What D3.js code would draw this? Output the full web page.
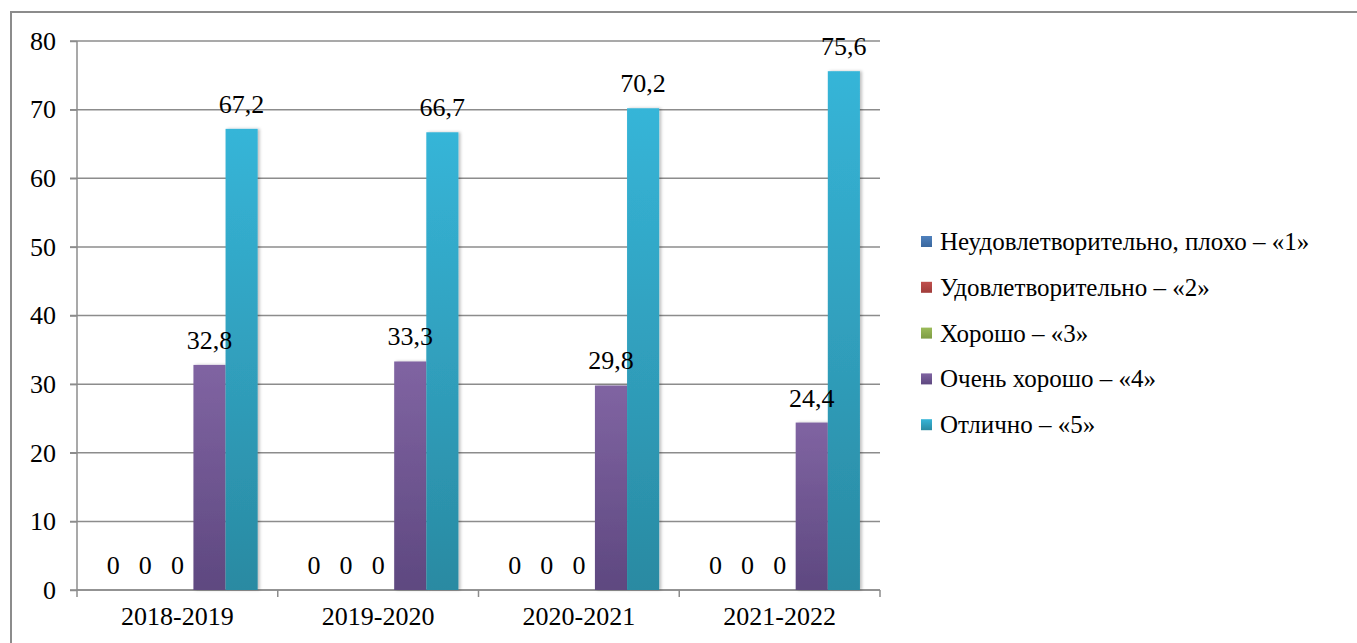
<!DOCTYPE html>
<html><head><meta charset="utf-8">
<script src="https://cdnjs.cloudflare.com/ajax/libs/d3/7.8.5/d3.min.js"></script>
<style>body{margin:0;background:#fff}svg{display:block}svg text{font-family:"Liberation Serif","Times New Roman","DejaVu Serif",serif !important}</style>
</head><body>
<script>
const categories = ["2018-2019","2019-2020","2020-2021","2021-2022"];
const seriesNames = ["Неудовлетворительно, плохо – «1»","Удовлетворительно – «2»","Хорошо – «3»","Очень хорошо – «4»","Отлично – «5»"];
const s1 = [0,0,0,0];
const s2 = [0,0,0,0];
const s3 = [0,0,0,0];
const s4 = [32.8,33.3,29.8,24.4];
const s5 = [67.2,66.7,70.2,75.6];
const labels1 = ["0","0","0","0"];
const labels2 = ["0","0","0","0"];
const labels3 = ["0","0","0","0"];
const labels4 = ["32,8","33,3","29,8","24,4"];
const labels5 = ["67,2","66,7","70,2","75,6"];
const yTicks = [0,10,20,30,40,50,60,70,80];
const colorsTop = ["#4f81bd","#c0504d","#9bbb59","#8064a2","#36b5d8"];
const colorsBot = ["#3a679e","#a03c3a","#7e9c43","#5e4880","#2a8aa2"];

const seriesVals = [s1,s2,s3,s4,s5];
const seriesLabels = [labels1,labels2,labels3,labels4,labels5];

const W=1357,H=643;
const svg=d3.select("body").append("svg").attr("width",W).attr("height",H);
const FS=26, LFS=25;

const defs=svg.append("defs");
colorsTop.forEach((c,i)=>{
  const g=defs.append("linearGradient").attr("id","g"+i).attr("x1",0).attr("y1",0).attr("x2",0).attr("y2",1);
  g.append("stop").attr("offset","0%").attr("stop-color",c);
  g.append("stop").attr("offset","100%").attr("stop-color",colorsBot[i]);
});
const f=defs.append("filter").attr("id","sh").attr("x","-20%").attr("y","-5%").attr("width","150%").attr("height","110%");
f.append("feDropShadow").attr("dx",2).attr("dy",0).attr("stdDeviation",1.5).attr("flood-color","#000").attr("flood-opacity",0.25);

// outer border
svg.append("path").attr("d",`M11,${H} L11,12 L${W},12`).attr("fill","none").attr("stroke","#8c8c8c").attr("stroke-width",2);

const pLeft=77,pRight=880,pTop=41,pBottom=590;
const x0=d3.scaleBand().domain(categories).range([pLeft,pRight]).padding(0);
const x1=d3.scaleBand().domain(d3.range(5)).range([0,x0.bandwidth()]).paddingInner(0).paddingOuter(0.625);
const y=d3.scaleLinear().domain([0,80]).range([pBottom,pTop]);

// grid
svg.append("g").selectAll("line").data(yTicks).join("line")
  .attr("x1",pLeft-7).attr("x2",pRight).attr("y1",d=>y(d)).attr("y2",d=>y(d))
  .attr("stroke","#8c8c8c").attr("stroke-width",1.5);

// y axis
const yAxis=svg.append("g").attr("transform",`translate(${pLeft},0)`).call(d3.axisLeft(y).tickValues(yTicks).tickSize(7).tickPadding(14));
yAxis.select(".domain").attr("stroke","#8c8c8c").attr("stroke-width",1.5).attr("d",`M0,${pTop}V${pBottom}`);
yAxis.selectAll(".tick line").attr("stroke","#8c8c8c").attr("stroke-width",1.5);
yAxis.selectAll("text").attr("font-size",FS).attr("fill","#000");

// x axis
const xAxis=svg.append("g").attr("transform",`translate(0,${pBottom})`).call(d3.axisBottom(x0).tickSize(0).tickPadding(17));
xAxis.select(".domain").attr("stroke","#8c8c8c").attr("stroke-width",1.5).attr("d",`M${pLeft},0H${pRight}`);
xAxis.selectAll("text").attr("font-size",FS).attr("fill","#000");
const bounds=categories.map(c=>x0(c)).concat([pRight]);
svg.append("g").selectAll("line").data(bounds).join("line")
  .attr("x1",d=>d).attr("x2",d=>d).attr("y1",pBottom).attr("y2",pBottom+7)
  .attr("stroke","#8c8c8c").attr("stroke-width",1.5);

// bars
const data=[];
categories.forEach((c,ci)=>seriesVals.forEach((s,si)=>data.push({c,si,v:s[ci],l:seriesLabels[si][ci]})));
svg.append("g").selectAll("rect").data(data.filter(d=>d.v>0)).join("rect")
  .attr("x",d=>x0(d.c)+x1(d.si)).attr("width",x1.bandwidth())
  .attr("y",d=>y(d.v)).attr("height",d=>y(0)-y(d.v))
  .attr("fill",d=>`url(#g${d.si})`).attr("filter","url(#sh)");
svg.append("g").selectAll("text").data(data).join("text")
  .attr("x",d=>x0(d.c)+x1(d.si)+x1.bandwidth()/2).attr("y",d=>y(d.v)-16)
  .attr("text-anchor","middle").attr("font-size",FS).attr("fill","#000")
  .text(d=>d.l);

// legend
const lg=svg.append("g");
seriesNames.forEach((n,i)=>{
  const yy=242+i*45.8;
  lg.append("rect").attr("x",921).attr("y",yy-6).attr("width",11).attr("height",11).attr("fill",`url(#g${i})`);
  lg.append("text").attr("x",940).attr("y",yy+8).attr("font-size",LFS).attr("fill","#000").text(n);
});
</script>
</body></html>
